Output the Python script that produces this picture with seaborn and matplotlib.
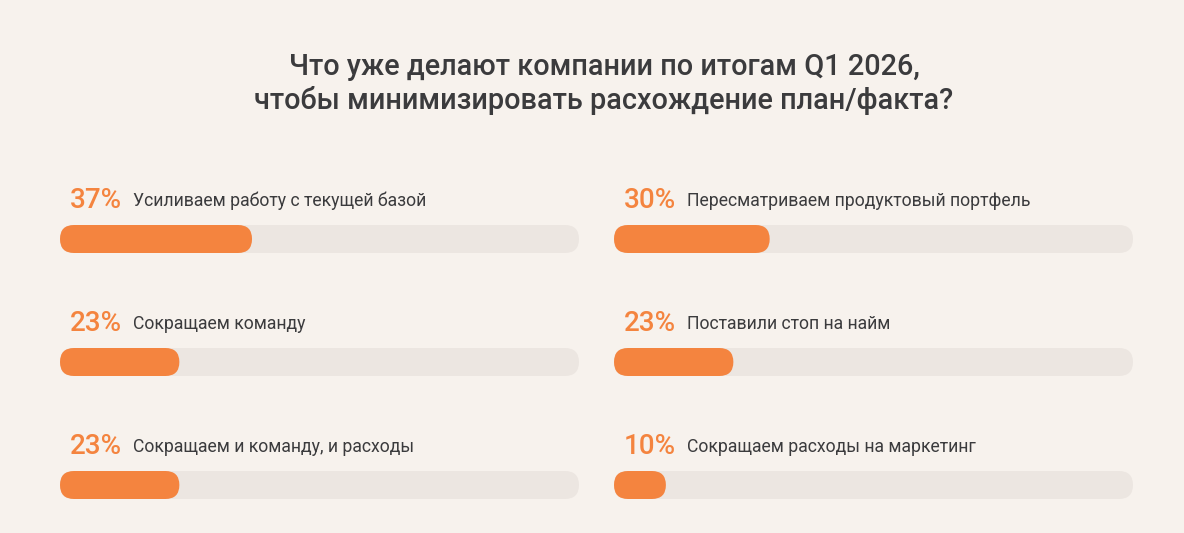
import seaborn as sns
import matplotlib.pyplot as plt
from matplotlib.patches import FancyBboxPatch
import pandas as pd

TITLE = 'Что уже делают компании по итогам Q1 2026,\nчтобы минимизировать расхождение план/факта?'
left_labels = ['Усиливаем работу с текущей базой', 'Сокращаем команду', 'Сокращаем и команду, и расходы']
left_values = [37, 23, 23]
right_labels = ['Пересматриваем продуктовый портфель', 'Поставили стоп на найм', 'Сокращаем расходы на маркетинг']
right_values = [30, 23, 10]

BG = '#F7F2ED'
TRACK = '#ECE6E1'
ORANGE = '#F4843F'
TEXT = '#3B3B3D'

W, H = 1184, 533
TRACK_PX = 519
ROW_PX = 123
BAR_PX = 28


def round_bars(ax):
    # turn seaborn rectangles into pill shapes
    xpp = 100.0 / TRACK_PX
    ypp = 1.0 / ROW_PX
    aspect = ypp / xpp
    rects = list(ax.patches)
    for p in rects:
        x, y = p.get_x(), p.get_y()
        w, h = p.get_width(), p.get_height()
        fc = p.get_facecolor()
        p.remove()
        ax.add_patch(FancyBboxPatch((x, y), w, h,
                                    boxstyle='round,pad=0,rounding_size=%f' % (BAR_PX / 2 * xpp),
                                    mutation_aspect=aspect, fc=fc, ec='none', lw=0))


def draw_panel(fig, x0_px, labels, values):
    top_px, bot_px = 160, 533
    ax = fig.add_axes([x0_px / W, 1 - bot_px / H, TRACK_PX / W, (bot_px - top_px) / H])
    df = pd.DataFrame({'label': labels, 'value': values, 'full': [100] * len(values)})
    sns.barplot(data=df, y='label', x='full', orient='h', color=TRACK, saturation=1,
                width=BAR_PX / ROW_PX, ax=ax)
    sns.barplot(data=df, y='label', x='value', orient='h', color=ORANGE, saturation=1,
                width=BAR_PX / ROW_PX, ax=ax)
    round_bars(ax)
    ax.set_xlim(0, 100)
    ax.set_ylim((bot_px - 239) / ROW_PX, (top_px - 239) / ROW_PX)
    ax.axis('off')
    for i, (lab, v) in enumerate(zip(labels, values)):
        ty = i - 0.31
        ax.text(10 * 100 / TRACK_PX, ty, '%d%%' % v, color=ORANGE, fontsize=20,
                fontweight='medium', ha='left', va='center')
        ax.text(73 * 100 / TRACK_PX, ty, lab, color=TEXT, fontsize=12.7,
                ha='left', va='center')
    return ax


def run():
    sns.set_style('white')
    plt.rcParams['font.family'] = ['Roboto', 'DejaVu Sans']
    fig = plt.figure(figsize=(W / 100, H / 100), dpi=100, facecolor=BG)
    fig.text(604 / W, 1 - 84 / H, TITLE, ha='center', va='center', multialignment='center',
             fontsize=20.8, fontweight='medium', color=TEXT, linespacing=1.18)
    draw_panel(fig, 60, left_labels, left_values)
    draw_panel(fig, 614, right_labels, right_values)
    fig.savefig('out.png', dpi=100, facecolor=BG)


if __name__ == '__main__':
    run()
